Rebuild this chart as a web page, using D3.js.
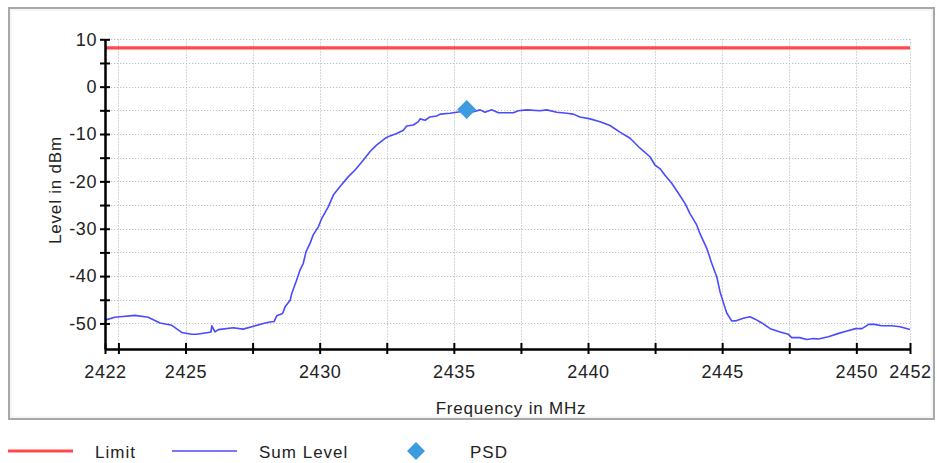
<!DOCTYPE html>
<html>
<head>
<meta charset="utf-8">
<script src="https://cdn.jsdelivr.net/npm/d3@7"></script>
<style>
  html, body { margin: 0; padding: 0; background: #fff; }
  svg { display: block; }
  .lbl { font-family: "Liberation Sans", Arial, sans-serif; fill: #222; }
</style>
</head>
<body>
<svg id="chart" width="937" height="463"></svg>
<script>
// ---- data ----
const freqMHz = [
  2422.00, 2422.37, 2422.56, 2423.12, 2423.61, 2424.05, 2424.49, 2424.86, 2425.23, 2425.42,
  2425.85, 2425.95, 2425.98, 2426.10, 2426.22, 2426.78, 2427.15, 2427.53, 2427.90, 2428.15,
  2428.30, 2428.40, 2428.62, 2428.71, 2428.90, 2428.96, 2429.14, 2429.27, 2429.39, 2429.49,
  2429.64, 2429.76, 2429.95, 2430.08, 2430.32, 2430.51, 2430.76, 2431.07, 2431.32, 2431.57,
  2431.88, 2432.13, 2432.44, 2432.62, 2432.87, 2433.12, 2433.24, 2433.49, 2433.68, 2433.74,
  2433.93, 2434.11, 2434.36, 2434.49, 2434.86, 2435.23, 2435.73, 2435.98, 2436.16, 2436.41,
  2436.66, 2437.22, 2437.40, 2437.72, 2438.21, 2438.46, 2438.84, 2439.21, 2439.45, 2439.70,
  2440.08, 2440.45, 2440.82, 2441.19, 2441.57, 2441.94, 2442.31, 2442.50, 2442.68, 2442.87,
  2443.12, 2443.37, 2443.62, 2443.80, 2444.05, 2444.17, 2444.43, 2444.61, 2444.80, 2444.92,
  2445.04, 2445.17, 2445.36, 2445.54, 2445.79, 2446.04, 2446.23, 2446.48, 2446.79, 2447.16,
  2447.47, 2447.59, 2447.90, 2448.15, 2448.40, 2448.59, 2448.96, 2449.34, 2449.65, 2449.97,
  2450.21, 2450.46, 2450.68, 2450.94, 2451.32, 2451.63, 2452.00
];
const sumLevel = [
  -49.3, -48.7, -48.6, -48.3, -48.7, -49.9, -50.4, -51.9, -52.3, -52.3,
  -51.9, -51.8, -50.5, -51.8, -51.3, -50.9, -51.2, -50.6, -50.0, -49.7,
  -49.6, -48.4, -47.9, -46.5, -45.1, -43.7, -40.9, -38.7, -37.3, -34.9,
  -33.1, -31.3, -29.6, -27.8, -25.4, -22.9, -21.1, -19.0, -17.6, -15.9,
  -13.7, -12.3, -10.9, -10.4, -9.9, -9.2, -8.3, -8.1, -7.4, -6.8,
  -7.1, -6.4, -6.2, -5.8, -5.6, -5.3, -5.3, -4.9, -5.4, -4.9,
  -5.5, -5.5, -5.1, -4.9, -5.1, -4.9, -5.4, -5.6, -5.8, -6.4,
  -6.8, -7.4, -8.2, -9.6, -10.9, -13.0, -14.8, -16.6, -17.3, -18.7,
  -20.4, -22.5, -24.7, -26.8, -29.2, -31.0, -34.2, -37.3, -40.2, -43.3,
  -45.5, -47.8, -49.5, -49.4, -48.9, -48.6, -49.1, -49.9, -51.1, -51.8,
  -52.3, -53.0, -53.0, -53.4, -53.2, -53.3, -52.8, -52.1, -51.6, -51.1,
  -51.1, -50.2, -50.2, -50.5, -50.5, -50.7, -51.3
];
const limitLevel = 8.2;
const psdFreq = [2435.48];
const psdLevel = [-4.8];

const xTicks = [2422, 2422.5, 2425, 2427.5, 2430, 2432.5, 2435, 2437.5, 2440, 2442.5, 2445, 2447.5, 2450, 2452];
const xLabels = [2422, 2425, 2430, 2435, 2440, 2445, 2450, 2452];
const yTicks = [10, 5, 0, -5, -10, -15, -20, -25, -30, -35, -40, -45, -50];
const yLabels = [10, 0, -10, -20, -30, -40, -50];
const legendItems = ["Limit", "Sum Level", "PSD"];

// ---- layout ----
const svg = d3.select("#chart");
const x = d3.scaleLinear().domain([2422, 2452]).range([105, 910]);
const y = d3.scaleLinear().domain([10, -55.4]).range([39.3, 349]);

// frame
svg.append("rect").attr("x", 9).attr("y", 8).attr("width", 925).attr("height", 411)
  .attr("fill", "#fff").attr("stroke", "#a8a8a8").attr("stroke-width", 2);
svg.append("rect").attr("x", 11).attr("y", 10).attr("width", 921).attr("height", 407)
  .attr("fill", "none").attr("stroke", "#ececec").attr("stroke-width", 1);

// grid
const grid = svg.append("g").attr("stroke", "#bdbdbd").attr("stroke-width", 1).attr("stroke-dasharray", "1.2,1.8");
grid.selectAll(".gx").data(xTicks.filter(d => d > 2422)).enter().append("line")
  .attr("x1", d => Math.round(x(d)) + 0.5).attr("x2", d => Math.round(x(d)) + 0.5)
  .attr("y1", y(10)).attr("y2", y(-55.4));
grid.selectAll(".gy").data(yTicks).enter().append("line")
  .attr("y1", d => Math.round(y(d)) + 0.5).attr("y2", d => Math.round(y(d)) + 0.5)
  .attr("x1", x(2422)).attr("x2", x(2452));

// limit line
svg.append("line").attr("x1", x(2422)).attr("x2", x(2452))
  .attr("y1", y(limitLevel)).attr("y2", y(limitLevel))
  .attr("stroke", "#ff4848").attr("stroke-width", 3.2);

// sum level trace
const pts = freqMHz.map((f, i) => [f, sumLevel[i]]);
svg.append("path").datum(pts)
  .attr("fill", "none").attr("stroke", "#4a4aff").attr("stroke-width", 1.6)
  .attr("stroke-linejoin", "round")
  .attr("d", d3.line().x(d => x(d[0])).y(d => y(d[1])));

// PSD marker
svg.selectAll(".psd").data(psdFreq).enter().append("path")
  .attr("transform", (d, i) => `translate(${x(d)},${y(psdLevel[i])})`)
  .attr("d", "M0,-9.5L9.5,0L0,9.5L-9.5,0Z").attr("fill", "#3d9be0");

// axes
const fmtX = d => xLabels.includes(d) ? String(d) : "";
const fmtY = d => yLabels.includes(d) ? String(d) : "";

svg.append("g").attr("transform", `translate(0,${y(-55.4)})`)
  .call(d3.axisBottom(x).tickValues(xTicks).tickFormat(fmtX).tickSizeInner(5).tickSizeOuter(0).tickPadding(11));
svg.append("g").attr("transform", `translate(0,${y(-55.4)})`)
  .call(d3.axisBottom(x).tickValues(xTicks).tickFormat("").tickSizeInner(-6).tickSizeOuter(0));

svg.append("g").attr("transform", `translate(${x(2422)},0)`)
  .call(d3.axisLeft(y).tickValues(yTicks).tickFormat(fmtY).tickSizeInner(5).tickSizeOuter(0).tickPadding(3));
svg.append("g").attr("transform", `translate(${x(2422)},0)`)
  .call(d3.axisLeft(y).tickValues(yTicks).tickFormat("").tickSizeInner(-5).tickSizeOuter(0));

svg.selectAll(".domain").attr("stroke", "#000").attr("stroke-width", 2);
svg.selectAll(".tick line").attr("stroke", "#000").attr("stroke-width", 2);
svg.selectAll(".tick text").attr("class", "lbl").style("font-size", "18px").style("letter-spacing", "0.6px").attr("fill", "#222");

// axis titles
svg.append("text").attr("class", "lbl").attr("transform", "translate(61,190) rotate(-90)")
  .attr("text-anchor", "middle").style("font-size", "17px").style("letter-spacing", "0.8px").text("Level in dBm");
svg.append("text").attr("class", "lbl").attr("x", 511).attr("y", 414)
  .attr("text-anchor", "middle").style("font-size", "17px").style("letter-spacing", "0.8px").text("Frequency in MHz");

// legend
const lg = svg.append("g");
lg.append("line").attr("x1", 8).attr("x2", 73).attr("y1", 451).attr("y2", 451).attr("stroke", "#ff4848").attr("stroke-width", 3.2);
lg.append("line").attr("x1", 172).attr("x2", 237).attr("y1", 451).attr("y2", 451).attr("stroke", "#4a4aff").attr("stroke-width", 1.4);
lg.append("path").attr("transform", "translate(416,451)").attr("d", "M0,-9L9,0L0,9L-9,0Z").attr("fill", "#3d9be0");
const lx = [95, 259, 470];
lg.selectAll(".lt").data(legendItems).enter().append("text").attr("class", "lbl")
  .attr("x", (d, i) => lx[i]).attr("y", 458).style("font-size", "17px").style("letter-spacing", "1px").text(d => d);
</script>
</body>
</html>
